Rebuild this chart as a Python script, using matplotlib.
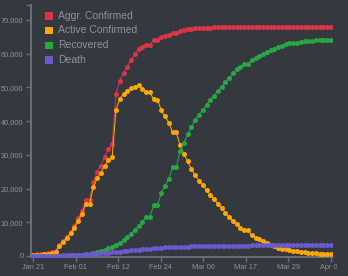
import matplotlib
matplotlib.use('Agg')
import numpy as np
import matplotlib.pyplot as plt
from matplotlib.patches import Rectangle
from matplotlib.transforms import Bbox

# one value per day, Jan 21 .. Apr 09
aggr_confirmed = [300, 450, 450, 570, 790, 1130, 1480, 3320, 4490, 5770,
                  7150, 8910, 11150, 13370, 16700, 16700, 21870, 24800, 26800, 29470,
                  31650, 33230, 48070, 52020, 54390, 56170, 58160, 59940, 61510, 62110,
                  62700, 62700, 64090, 64090, 64880, 65280, 65680, 66070, 66070, 66830,
                  67040, 67240, 67440, 67560, 67650, 67700, 67740, 67760, 67780, 67780,
                  67790, 67790, 67790, 67800, 67800, 67800, 67800, 67800, 67800, 67800,
                  67800, 67800, 67800, 67800, 67800, 67800, 67800, 67800, 67800, 67800,
                  67800, 67800, 67800, 67800, 67800, 67800, 67800, 67800, 67800, 67800]
active_confirmed = [260, 400, 400, 500, 700, 1000, 1300, 3100, 4240, 5430,
                    6730, 8400, 10500, 12560, 15520, 15520, 20560, 23050, 24700, 26800,
                    28400, 29470, 43400, 46650, 48070, 49000, 49850, 50240, 50600, 49500,
                    48700, 48500, 46500, 46400, 43200, 41400, 39550, 36700, 36700, 32840,
                    30300, 28100, 25700, 23940, 22350, 20970, 19490, 18150, 16910, 15520,
                    14150, 12900, 11620, 10290, 9350, 8350, 7570, 7570, 6150, 5450,
                    4950, 4350, 3860, 3400, 3000, 2400, 2150, 1950, 1750, 1580,
                    1420, 1270, 1130, 1010, 900, 800, 710, 630, 560, 500]
recovered = [30, 30, 30, 30, 40, 50, 80, 90, 90, 140,
             170, 220, 300, 400, 520, 520, 820, 1120, 1570, 1780,
             2280, 2770, 3360, 3950, 4650, 5550, 6620, 7710, 8900, 10090,
             11670, 11670, 15130, 15130, 18600, 20770, 22800, 26310, 26310, 31240,
             33610, 36050, 38400, 40340, 41950, 43400, 44900, 46370, 47550, 48950,
             50200, 51480, 52780, 54150, 55400, 56200, 56870, 56870, 58240, 58830,
             59420, 59920, 60430, 61010, 61500, 62000, 62390, 62890, 63190, 63290,
             63290, 63590, 63690, 63780, 63870, 64000, 64080, 64080, 64170, 64170]
death = [10, 20, 20, 40, 50, 80, 100, 130, 160, 200,
         250, 290, 350, 410, 480, 480, 620, 700, 780, 870,
         970, 1070, 1310, 1320, 1460, 1600, 1700, 1790, 1920, 2030,
         2140, 2140, 2350, 2350, 2500, 2560, 2620, 2640, 2640, 2730,
         2760, 2800, 2830, 2870, 2900, 2930, 2960, 2990, 3010, 3020,
         3050, 3060, 3060, 3080, 3090, 3100, 3110, 3110, 3130, 3130,
         3140, 3140, 3150, 3160, 3160, 3170, 3170, 3180, 3180, 3190,
         3190, 3190, 3200, 3200, 3210, 3210, 3210, 3210, 3210, 3210]

date_labels = ['Jan 21', 'Feb 01', 'Feb 12', 'Feb 24', 'Mar 06', 'Mar 17', 'Mar 29', 'Apr 09']
series_names = ['Aggr. Confirmed', 'Active Confirmed', 'Recovered', 'Death']
colors = ['#dc3545', '#ffa600', '#28a745', '#6a5acd']

bg = '#34383f'
axis_col = '#6b6f76'
text_col = '#8f9399'
W, H = 348, 276

plt.rcParams['font.family'] = ['Liberation Sans', 'DejaVu Sans']

fig = plt.figure(figsize=(W / 100, H / 100), dpi=100)
fig.patch.set_facecolor(bg)

# axes box in pixels: left 30.7, right 332, top 5, bottom 257
ax = fig.add_axes([30.7 / W, (H - 257) / H, (332 - 30.7) / W, (257 - 5) / H])
ax.set_facecolor(bg)

x = np.arange(len(aggr_confirmed))
for vals, c in zip([aggr_confirmed, active_confirmed, recovered, death], colors):
    ax.plot(x, vals, color=c, lw=0.75, marker='o', ms=3.6, mew=0, zorder=3)

n = len(x) - 1
ax.set_xlim(-0.61, n + 0.27)
ytop = 1.098 * max(aggr_confirmed)
ax.set_ylim(-297, ytop)

ax.set_xticks(np.linspace(0, n, len(date_labels)))
ax.set_xticklabels(date_labels)
yt = list(range(0, 70001, 10000))
ax.set_yticks(yt + [ytop])
ax.set_yticklabels(['{:,}'.format(v) for v in yt] + [''])

for s in ['top', 'right']:
    ax.spines[s].set_visible(False)
for s in ['left', 'bottom']:
    ax.spines[s].set_color(axis_col)
    ax.spines[s].set_linewidth(1.4)
ax.tick_params(axis='both', colors=axis_col, labelcolor=text_col, labelsize=5.3,
               length=3.3, width=1.0)
ax.tick_params(axis='y', pad=1.9)
ax.tick_params(axis='x', pad=1.8)

# the last date label is cut off at the right edge of the plot, as in the original
last = ax.get_xticklabels()[-1]
last.set_clip_on(True)
last.set_clip_box(Bbox.from_extents(0, 0, 336.5, H))

# legend
rows = [15.7, 30.3, 45.0, 59.7]
for name, c, yy in zip(series_names, colors, rows):
    fig.patches.append(Rectangle(((45.3) / W, (H - yy - 4) / H), 7.5 / W, 7.5 / H,
                                 transform=fig.transFigure, color=c, lw=0))
    fig.text(58 / W, (H - yy) / H, name, color=text_col, fontsize=7.5, va='center', ha='left')

fig.savefig('out.png', dpi=100, facecolor=bg)
